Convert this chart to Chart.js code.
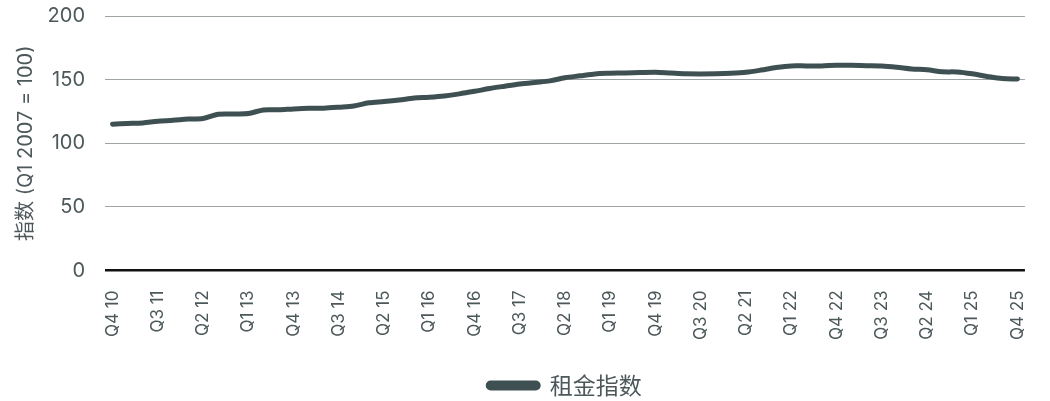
<!DOCTYPE html>
<html>
<head>
<meta charset="utf-8">
<script src="https://cdn.jsdelivr.net/npm/chart.js@4"></script>
<style>
  html, body { margin: 0; padding: 0; background: #fff; }
  #wrap { width: 1050px; height: 401px; position: relative; }
</style>
</head>
<body>
<div id="wrap"><canvas id="rentChart"></canvas></div>
<script>
const quarters = [
    'Q4 10',
    'Q1 11', 'Q2 11', 'Q3 11', 'Q4 11',
    'Q1 12', 'Q2 12', 'Q3 12', 'Q4 12',
    'Q1 13', 'Q2 13', 'Q3 13', 'Q4 13',
    'Q1 14', 'Q2 14', 'Q3 14', 'Q4 14',
    'Q1 15', 'Q2 15', 'Q3 15', 'Q4 15',
    'Q1 16', 'Q2 16', 'Q3 16', 'Q4 16',
    'Q1 17', 'Q2 17', 'Q3 17', 'Q4 17',
    'Q1 18', 'Q2 18', 'Q3 18', 'Q4 18',
    'Q1 19', 'Q2 19', 'Q3 19', 'Q4 19',
    'Q1 20', 'Q2 20', 'Q3 20', 'Q4 20',
    'Q1 21', 'Q2 21', 'Q3 21', 'Q4 21',
    'Q1 22', 'Q2 22', 'Q3 22', 'Q4 22',
    'Q1 23', 'Q2 23', 'Q3 23', 'Q4 23',
    'Q1 24', 'Q2 24', 'Q3 24', 'Q4 24',
    'Q1 25', 'Q2 25', 'Q3 25', 'Q4 25'
];

const rentIndex = [
    115,
    115.5, 116, 117.3, 118,
    119, 119.5, 122.8, 123,
    123.3, 126.2, 126.3, 127,
    127.5, 127.6, 128.3, 129.2,
    131.8, 132.8, 134, 135.5,
    136.2, 137.2, 138.8, 140.8,
    143, 144.8, 146.5, 147.8,
    149, 151.5, 153, 154.5,
    155, 155.3, 155.6, 155.8,
    155.2, 154.6, 154.5, 154.6,
    155, 155.8, 157.5, 159.5,
    160.8, 160.8, 160.8, 161.3,
    161.3, 161, 160.8, 159.8,
    158.4, 157.8, 156.2, 156,
    154.6, 152.5, 150.8, 150.5
];

const yTicks = [0, 50, 100, 150, 200];

const lineColor = '#3f5053';
const textColor = '#4d585b';

const ctx = document.getElementById('rentChart').getContext('2d');
const rentChart = new Chart(ctx, {
    type: 'line',
    data: {
        labels: quarters,
        datasets: [{
            label: '租金指数',
            data: rentIndex,
            borderColor: lineColor,
            backgroundColor: lineColor,
            borderWidth: 5,
            borderCapStyle: 'round',
            borderJoinStyle: 'round',
            pointRadius: 0,
            tension: 0.3,
            fill: false
        }]
    },
    options: {
        responsive: true,
        maintainAspectRatio: false,
        animation: false,
        layout: {
            padding: { left: 10, right: 25, top: 0, bottom: -6 }
        },
        scales: {
            x: {
                offset: true,
                grid: { display: false },
                border: { display: false },
                ticks: {
                    autoSkip: false,
                    maxRotation: 90,
                    minRotation: 90,
                    padding: 12,
                    color: textColor,
                    font: { family: 'Inter', size: 17 },
                    callback: function (value, index) {
                        return index % 3 === 0 ? quarters[index] : null;
                    }
                }
            },
            y: {
                min: 0,
                max: 200,
                afterBuildTicks: function (axis) {
                    axis.ticks = yTicks.map(v => ({ value: v }));
                },
                afterFit: function (axis) {
                    axis.width = 95;
                    axis.paddingTop = 16; // tick padding otherwise pushes the top down
                },
                border: { display: false },
                grid: {
                    drawTicks: false,
                    color: c => c.tick.value === 0 ? '#111' : '#9ea3a5',
                    lineWidth: c => c.tick.value === 0 ? 2.5 : 1
                },
                ticks: {
                    padding: 20,
                    color: textColor,
                    font: { family: 'Inter', size: 20 }
                },
                title: {
                    display: true,
                    text: '指数 (Q1 2007 = 100)',
                    color: textColor,
                    padding: { top: 4, bottom: 4 },
                    font: { family: "'Inter', 'Noto Sans CJK SC'", size: 20 }
                }
            }
        },
        plugins: {
            tooltip: { enabled: false },
            legend: {
                position: 'bottom',
                fullSize: false,
                labels: {
                    boxWidth: 50,
                    boxHeight: 5,
                    useBorderRadius: true,
                    borderRadius: 2.5,
                    color: textColor,
                    padding: 22,
                    font: { family: "'Noto Sans CJK SC'", size: 23 }
                }
            }
        }
    }
});
</script>
</body>
</html>
